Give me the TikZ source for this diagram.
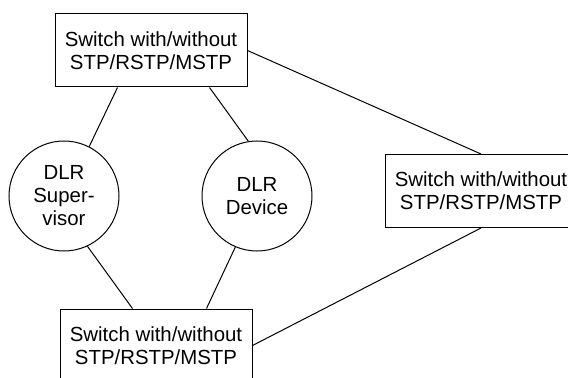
\documentclass[tikz,border=0pt]{standalone}
\usepackage{fontspec}
\setmainfont{Liberation Sans}
\tikzset{every picture/.style={line width=0.75pt}}
\tikzset{
  swbox/.style={draw, rectangle, minimum width=144pt, minimum height=54.75pt, inner sep=0.75pt, align=center, font=\fontsize{15.3pt}{17.25pt}\selectfont},
  dlrnode/.style={draw, circle, minimum size=82.5pt, inner sep=0.75pt, align=center, font=\fontsize{15.3pt}{17.25pt}\selectfont}
}
\begin{document}
\begin{tikzpicture}[x=0.75pt,y=0.75pt,yscale=-1,xscale=1]
\useasboundingbox (0,0) rectangle (568,378);

%Shape: Rectangle [top switch]
\node [swbox] (swtop) at (151,50.5) {Switch with/without\\STP/RSTP/MSTP};
%Shape: Rectangle [right switch]
\node [swbox] (swright) at (481,191) {Switch with/without\\STP/RSTP/MSTP};
%Shape: Rectangle [bottom switch]
\node [swbox] (swbot) at (156,345.5) {Switch with/without\\STP/RSTP/MSTP};
%Shape: Circle [supervisor]
\node [dlrnode] (sup) at (64,196) {DLR\\Super-\\visor};
%Shape: Circle [device]
\node [dlrnode] (dev) at (257,196) {DLR\\Device};

%Straight Lines
\draw ([xshift=47.25pt]swtop.south west) -- (sup.63);
\draw ([xshift=116.25pt]swtop.south west) -- (dev.99);
\draw (swtop.east) -- (swright.north);
\draw (sup.-65) -- ([xshift=54.75pt]swbot.north west);
\draw (dev.-113) -- ([xshift=110.25pt]swbot.north west);
\draw (swright.south) -- (swbot.east);

\end{tikzpicture}
\end{document}
